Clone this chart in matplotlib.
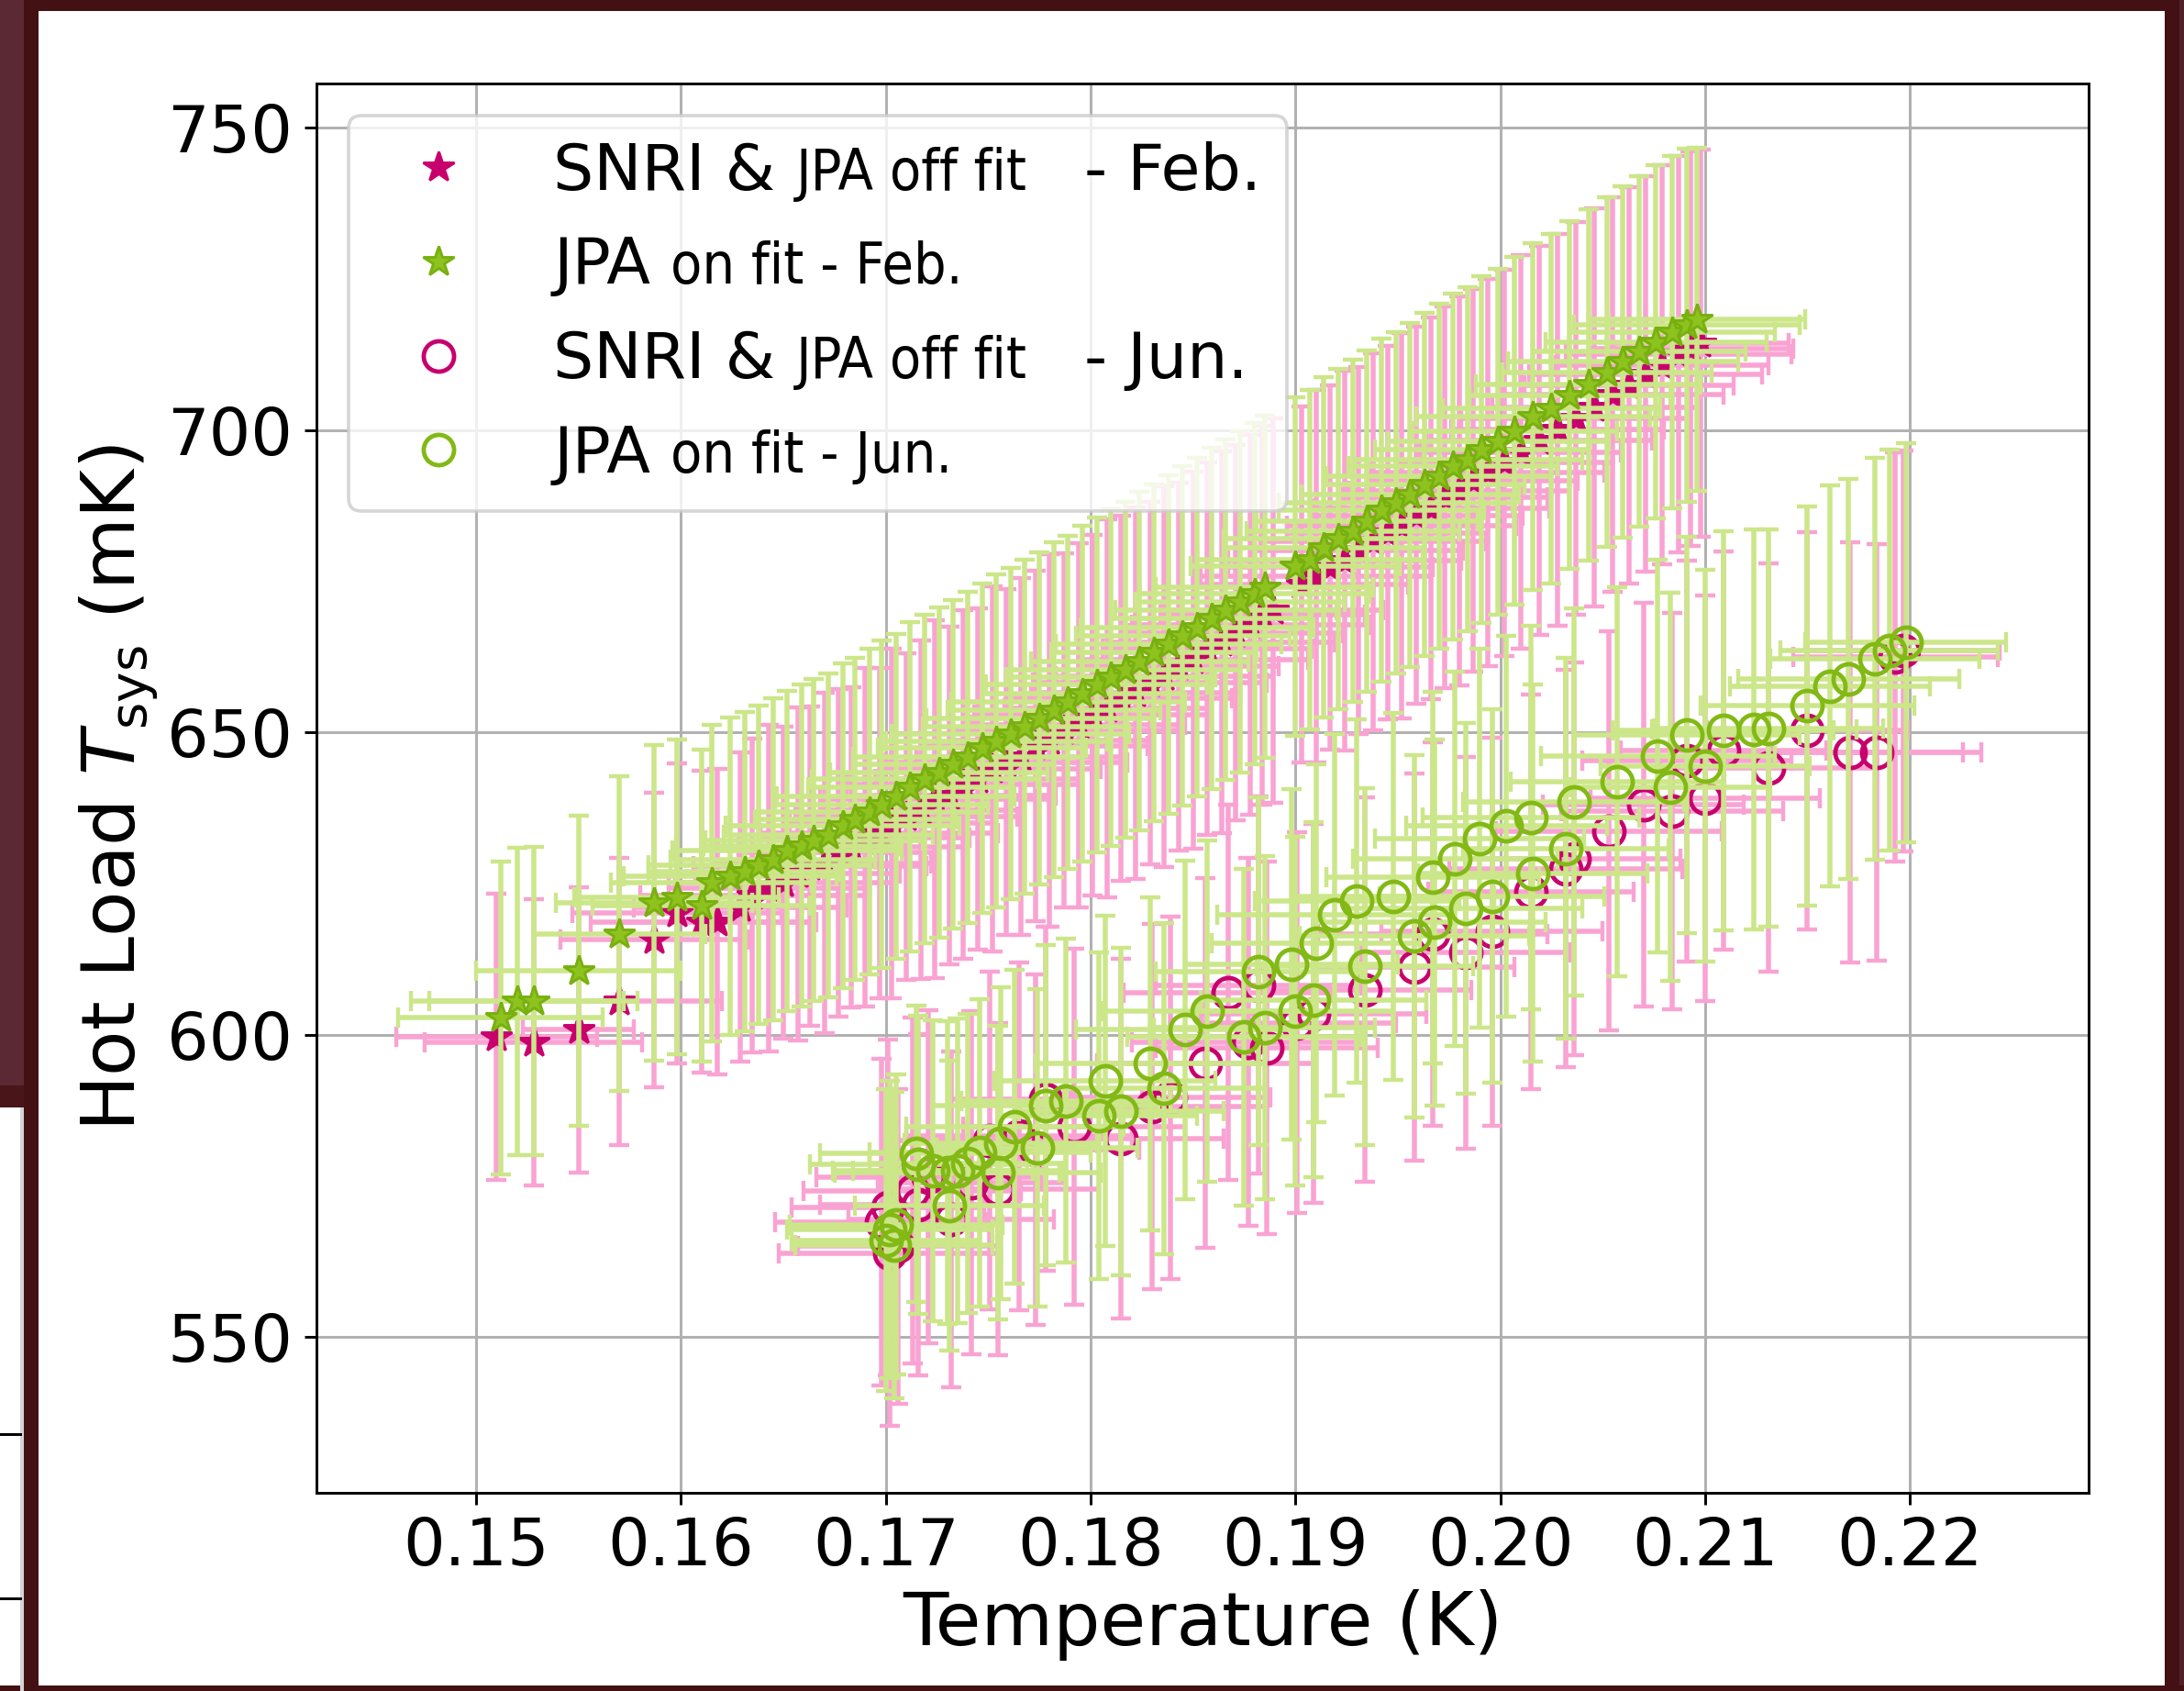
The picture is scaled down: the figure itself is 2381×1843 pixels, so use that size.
import matplotlib
matplotlib.use("Agg")
import matplotlib.pyplot as plt
from matplotlib.patches import Rectangle
from matplotlib.offsetbox import TextArea, HPacker, DrawingArea

# ---------------- data ----------------
# Feb. run, JPA on fit
feb_on_T = [0.1512, 0.1520, 0.1528, 0.1550, 0.1570, 0.1587, 0.1598, 0.1610, 0.1615, 0.1624,
            0.1631, 0.1638, 0.1645, 0.1652, 0.1659, 0.1665, 0.1672, 0.1679, 0.1685, 0.1692,
            0.1698, 0.1705, 0.1712, 0.1719, 0.1726, 0.1733, 0.1740, 0.1747, 0.1754, 0.1761,
            0.1768, 0.1775, 0.1782, 0.1789, 0.1796, 0.1803, 0.1810, 0.1817, 0.1824, 0.1831,
            0.1838, 0.1845, 0.1852, 0.1859, 0.1866, 0.1873, 0.1880, 0.1885,
            0.1900, 0.1907, 0.1914, 0.1921, 0.1928, 0.1935, 0.1942, 0.1949, 0.1956, 0.1963,
            0.1970, 0.1977, 0.1984, 0.1991, 0.1999, 0.2007, 0.2016, 0.2025, 0.2034, 0.2043,
            0.2052, 0.2060, 0.2068, 0.2076, 0.2084, 0.2091, 0.2096]
feb_on_Y = [602.8, 605.5, 605.5, 610.6, 616.7, 621.8, 622.8, 621.4, 625.1, 626.2,
            627.0, 628.1, 629.0, 630.4, 631.3, 632.2, 633.0, 634.6, 635.7, 636.9,
            638.1, 639.4, 641.0, 642.3, 643.4, 644.7, 645.9, 647.4, 648.6, 649.8,
            651.0, 652.3, 653.7, 655.0, 656.4, 657.9, 659.1, 660.4, 661.8, 663.2,
            664.6, 666.0, 667.4, 668.9, 670.3, 671.6, 673.0, 674.1,
            677.5, 678.6, 680.6, 682.0, 683.3, 685.0, 686.8, 688.0, 689.3, 691.0,
            692.4, 694.0, 695.2, 696.8, 698.1, 699.9, 702.2, 703.6, 705.8, 707.5,
            709.6, 711.3, 713.0, 714.6, 716.2, 717.4, 718.3]
feb_on_dT = [0.0050, 0.0052, 0.0051, 0.0050, 0.0042, 0.0048, 0.0050, 0.0053, 0.0049, 0.0052,
             0.0047, 0.0054, 0.0050, 0.0056, 0.0048, 0.0053, 0.0051, 0.0057, 0.0049, 0.0054,
             0.0052, 0.0058, 0.0050, 0.0055, 0.0053, 0.0049, 0.0056, 0.0051, 0.0054, 0.0058,
             0.0050, 0.0055, 0.0052, 0.0057, 0.0049, 0.0054, 0.0051, 0.0056, 0.0053, 0.0050,
             0.0055, 0.0052, 0.0057, 0.0049, 0.0054, 0.0051, 0.0056, 0.0053,
             0.0051, 0.0055, 0.0049, 0.0056, 0.0052, 0.0054, 0.0050, 0.0057, 0.0053, 0.0049,
             0.0055, 0.0051, 0.0056, 0.0052, 0.0054, 0.0050, 0.0057, 0.0053, 0.0049, 0.0055,
             0.0051, 0.0056, 0.0052, 0.0054, 0.0050, 0.0055, 0.0053]
feb_on_dY = [25.9, 25.4, 25.5, 25.7, 26.0, 26.1, 26.0, 25.8, 26.2, 26.3,
             26.4, 26.3, 26.6, 26.5, 26.7, 26.6, 26.8, 26.9, 26.7, 27.0,
             27.1, 26.9, 27.2, 27.1, 27.3, 27.2, 27.4, 27.3, 27.5, 27.4,
             27.6, 27.5, 27.7, 27.6, 27.8, 27.7, 27.9, 27.8, 28.0, 27.9,
             28.0, 28.1, 28.0, 28.2, 28.1, 28.3, 28.2, 28.3,
             28.0, 28.1, 28.2, 28.1, 28.3, 28.2, 28.4, 28.3, 28.5, 28.4,
             28.5, 28.6, 28.5, 28.7, 28.6, 28.8, 28.7, 28.9, 28.8, 29.0,
             28.9, 29.1, 29.0, 29.2, 29.1, 29.2, 28.4]

# Feb. run, SNRI & JPA off fit
feb_off_T = [0.1510, 0.1528, 0.1550, 0.1570, 0.1587, 0.1598, 0.1610, 0.1618, 0.1629,
             0.1635, 0.1643, 0.1650, 0.1657, 0.1663, 0.1670, 0.1677, 0.1683, 0.1690, 0.1697,
             0.1703, 0.1710, 0.1717, 0.1724, 0.1731, 0.1738, 0.1745, 0.1752, 0.1759, 0.1766,
             0.1773, 0.1780, 0.1787, 0.1794, 0.1801, 0.1808, 0.1815, 0.1822, 0.1829, 0.1836,
             0.1843, 0.1850, 0.1857, 0.1864, 0.1871, 0.1878, 0.1884, 0.1889,
             0.1903, 0.1910, 0.1917, 0.1924, 0.1931, 0.1938, 0.1945, 0.1952, 0.1959, 0.1966,
             0.1973, 0.1980, 0.1987, 0.1994, 0.2002, 0.2010, 0.2019, 0.2028, 0.2037, 0.2046,
             0.2055, 0.2063, 0.2071, 0.2079, 0.2087, 0.2093, 0.2098]
feb_off_Y = [599.7, 598.7, 600.8, 605.5, 615.7, 620.1, 618.7, 618.7, 621.1,
             623.0, 624.3, 625.1, 626.6, 627.9, 628.4, 630.1, 631.0, 632.6, 633.4,
             635.0, 636.1, 637.2, 638.9, 639.6, 641.4, 642.3, 644.0, 645.1, 646.0,
             647.8, 648.7, 650.3, 651.2, 652.9, 654.0, 655.6, 656.5, 658.2, 659.3,
             660.9, 662.0, 663.8, 664.9, 666.5, 667.8, 669.4, 670.2,
             674.5, 675.9, 677.3, 678.4, 680.1, 681.6, 683.0, 684.2, 685.9, 687.1,
             688.9, 690.0, 691.7, 693.0, 694.6, 696.4, 698.3, 700.1, 702.0, 703.8,
             705.9, 707.4, 709.3, 710.8, 712.6, 713.5, 714.4]
feb_off_dT = [0.0049, 0.0053, 0.0027, 0.0050, 0.0046, 0.0051, 0.0054, 0.0048, 0.0052,
              0.0055, 0.0049, 0.0053, 0.0050, 0.0057, 0.0052, 0.0048, 0.0055, 0.0051, 0.0058,
              0.0050, 0.0054, 0.0049, 0.0056, 0.0052, 0.0057, 0.0050, 0.0053, 0.0059, 0.0051,
              0.0055, 0.0049, 0.0056, 0.0052, 0.0058, 0.0050, 0.0054, 0.0051, 0.0057, 0.0053,
              0.0049, 0.0056, 0.0051, 0.0055, 0.0052, 0.0058, 0.0050, 0.0054,
              0.0052, 0.0056, 0.0050, 0.0057, 0.0051, 0.0055, 0.0049, 0.0056, 0.0052, 0.0058,
              0.0050, 0.0054, 0.0051, 0.0057, 0.0053, 0.0049, 0.0055, 0.0052, 0.0056, 0.0050,
              0.0054, 0.0051, 0.0057, 0.0052, 0.0055, 0.0050, 0.0043]
feb_off_dY = [23.7, 23.7, 23.6, 23.7, 24.4, 24.8, 25.0, 25.3, 25.6,
              26.0, 27.0, 25.8, 27.6, 26.4, 28.2, 27.1, 26.5, 28.0, 27.3,
              28.9, 27.0, 28.0, 29.6, 27.9, 28.8, 28.2, 30.2, 28.6, 29.5,
              29.0, 30.8, 29.3, 30.1, 29.8, 31.2, 30.2, 30.8, 30.0, 31.5,
              30.5, 31.2, 30.8, 31.6, 31.0, 31.4, 31.3, 31.8,
              29.5, 30.8, 30.1, 31.4, 30.4, 31.2, 30.9, 31.9, 31.2, 31.6,
              31.5, 32.2, 31.7, 32.0, 32.0, 32.6, 32.2, 32.4, 32.5, 32.9,
              32.6, 32.8, 32.7, 33.0, 32.8, 32.6, 32.0]

# Jun. run, JPA on fit
jun_on_T = [0.1700, 0.1702, 0.1704, 0.1705, 0.1715, 0.1716, 0.1723, 0.1730, 0.1731, 0.1735,
            0.1740, 0.1746, 0.1755, 0.1756, 0.1763, 0.1774, 0.1778, 0.1788, 0.1804, 0.1807,
            0.1815, 0.1829, 0.1836, 0.1846, 0.1857, 0.1875, 0.1882, 0.1885, 0.1898, 0.1900,
            0.1909, 0.1910, 0.1919, 0.1930, 0.1934, 0.1948, 0.1958, 0.1967, 0.1968, 0.1978,
            0.1983, 0.1990, 0.1996, 0.2003, 0.2015, 0.2016, 0.2032, 0.2036, 0.2057, 0.2077,
            0.2083, 0.2091, 0.2100, 0.2109, 0.2124, 0.2131, 0.2150, 0.2161, 0.2170, 0.2183,
            0.2190, 0.2198]
jun_on_Y = [566.0, 567.8, 565.2, 568.6, 580.3, 578.5, 577.5, 577.2, 571.7, 577.5,
            578.7, 580.5, 577.2, 582.0, 584.8, 581.3, 588.3, 589.1, 586.6, 592.4,
            587.3, 595.2, 591.1, 600.8, 603.9, 599.6, 610.5, 601.2, 611.6, 603.9,
            605.8, 615.1, 619.8, 622.1, 611.3, 622.9, 616.3, 626.0, 618.6, 629.1,
            620.9, 632.5, 622.9, 634.5, 635.9, 626.7, 630.8, 638.5, 641.8, 646.1,
            641.0, 649.6, 644.5, 650.3, 650.5, 650.7, 654.4, 657.7, 658.8, 662.2,
            663.6, 664.9]
jun_on_dT = [0.0046, 0.0050, 0.0048, 0.0052, 0.0047, 0.0053, 0.0049, 0.0055, 0.0046, 0.0051,
             0.0048, 0.0054, 0.0050, 0.0047, 0.0053, 0.0049, 0.0055, 0.0051, 0.0048, 0.0054,
             0.0050, 0.0056, 0.0049, 0.0053, 0.0051, 0.0057, 0.0050, 0.0054, 0.0052, 0.0048,
             0.0055, 0.0051, 0.0057, 0.0050, 0.0053, 0.0049, 0.0056, 0.0052, 0.0054, 0.0050,
             0.0057, 0.0051, 0.0055, 0.0049, 0.0053, 0.0056, 0.0050, 0.0054, 0.0052, 0.0057,
             0.0049, 0.0055, 0.0051, 0.0054, 0.0050, 0.0056, 0.0052, 0.0049, 0.0054, 0.0051,
             0.0053, 0.0049]
jun_on_dY = [25.0, 24.6, 25.3, 24.8, 24.5, 24.7, 24.9, 25.1, 24.0, 25.2,
             24.7, 25.4, 24.3, 25.8, 26.0, 26.3, 26.5, 26.8, 27.0, 27.3,
             27.1, 27.6, 27.4, 28.0, 28.3, 27.9, 28.7, 28.4, 29.0, 28.8,
             29.3, 29.6, 29.9, 30.1, 29.5, 30.4, 30.0, 30.8, 30.3, 31.0,
             30.6, 31.3, 30.9, 31.5, 31.7, 31.2, 31.5, 32.0, 32.2, 32.5,
             32.1, 32.8, 32.4, 33.0, 33.1, 32.9, 33.0, 33.2, 33.1, 33.3,
             33.2, 33.0]

# Jun. run, SNRI & JPA off fit
jun_off_T = [0.1698, 0.1701, 0.1702, 0.1706, 0.1713, 0.1716, 0.1721, 0.1732, 0.1742, 0.1751,
             0.1755, 0.1765, 0.1773, 0.1778, 0.1792, 0.1815, 0.1830, 0.1839, 0.1856, 0.1867,
             0.1877, 0.1882, 0.1886, 0.1901, 0.1909, 0.1934, 0.1958, 0.1967, 0.1983, 0.1996,
             0.2015, 0.2032, 0.2036, 0.2053, 0.2070, 0.2084, 0.2091, 0.2100, 0.2109, 0.2131,
             0.2150, 0.2171, 0.2184, 0.2193, 0.2197]
jun_off_Y = [569.0, 571.4, 563.8, 565.0, 574.2, 571.9, 576.5, 569.4, 575.5, 582.5,
             574.5, 583.2, 581.0, 589.4, 584.8, 582.8, 588.1, 589.6, 595.3, 607.0,
             598.8, 608.2, 597.8, 602.0, 603.5, 607.4, 611.2, 616.7, 613.6, 617.1,
             623.6, 627.5, 629.1, 633.7, 638.0, 637.0, 645.3, 639.1, 647.0, 644.2,
             650.3, 646.7, 646.7, 662.5, 663.5]
jun_off_dT = [0.0052, 0.0047, 0.0054, 0.0049, 0.0053, 0.0048, 0.0055, 0.0050, 0.0046, 0.0053,
              0.0049, 0.0055, 0.0051, 0.0047, 0.0054, 0.0050, 0.0056, 0.0049, 0.0053, 0.0051,
              0.0057, 0.0050, 0.0054, 0.0048, 0.0055, 0.0052, 0.0049, 0.0056, 0.0051, 0.0054,
              0.0050, 0.0057, 0.0052, 0.0055, 0.0049, 0.0054, 0.0051, 0.0056, 0.0050, 0.0053,
              0.0049, 0.0055, 0.0051, 0.0050, 0.0047]
jun_off_dY = [27.0, 27.8, 28.5, 26.0, 28.6, 28.2, 27.5, 27.8, 28.4, 27.9,
              27.5, 28.8, 29.0, 28.5, 29.4, 29.8, 30.2, 30.0, 30.6, 31.0,
              30.4, 31.2, 30.8, 31.5, 31.3, 31.8, 32.0, 31.7, 32.4, 32.1,
              32.6, 32.9, 32.5, 33.0, 33.4, 32.8, 33.2, 33.6, 33.0, 33.8,
              32.9, 34.7, 34.5, 33.9, 33.2]

# legend text, split where the original changes font
legend_parts = [["SNRI &", "JPA off fit", "- Feb."],
                ["JPA", "on fit - Feb."],
                ["SNRI &", "JPA off fit", "- Jun."],
                ["JPA", "on fit - Jun."]]

# ---------------- style ----------------
MAG = "#C8006E"        # SNRI & JPA off markers
PINK = "#F9A3D3"       # SNRI & JPA off error bars
GREEN = "#82B914"      # JPA on markers
LIME = "#CCE68A"       # JPA on error bars
DARK = "#431113"       # screenshot frame
MAROON = "#5a2934"

plt.rcParams["font.family"] = "DejaVu Sans"

W, H = 2381, 1843
DPI = 264.5
fig = plt.figure(figsize=(W / DPI, H / DPI), dpi=DPI, facecolor="white")
ax = fig.add_axes([345 / W, 1 - 1626.7 / H, (2277 - 345) / W, (1626.7 - 91) / H])

ebk = dict(fmt="none", elinewidth=1.5, capsize=3, capthick=1.2)

# Feb.
ax.errorbar(feb_off_T, feb_off_Y, xerr=feb_off_dT, yerr=feb_off_dY, ecolor=PINK, zorder=2.0, **ebk)
h1, = ax.plot(feb_off_T, feb_off_Y, ls="none", marker="*", ms=9.5, color=MAG, mew=0.8, zorder=2.05)
ax.errorbar(feb_on_T, feb_on_Y, xerr=feb_on_dT, yerr=feb_on_dY, ecolor=LIME, zorder=2.1, **ebk)
h2, = ax.plot(feb_on_T, feb_on_Y, ls="none", marker="*", ms=9.5, mfc="#8DC21F", mec="#78B00F",
              mew=0.8, zorder=3.2)
# Jun.
ax.errorbar(jun_off_T, jun_off_Y, xerr=jun_off_dT, yerr=jun_off_dY, ecolor=PINK, zorder=2.0, **ebk)
h3, = ax.plot(jun_off_T, jun_off_Y, ls="none", marker="o", ms=9, mfc="none", mec=MAG,
              mew=1.3, zorder=2.05)
ax.errorbar(jun_on_T, jun_on_Y, xerr=jun_on_dT, yerr=jun_on_dY, ecolor=LIME, zorder=2.1, **ebk)
h4, = ax.plot(jun_on_T, jun_on_Y, ls="none", marker="o", ms=9, mfc="none", mec=GREEN,
              mew=1.3, zorder=3.1)

ax.set_xlim(0.142208, 0.228728)
ax.set_ylim(524.26, 757.36)
ax.set_xticks([0.15, 0.16, 0.17, 0.18, 0.19, 0.20, 0.21, 0.22])
ax.set_yticks([550, 600, 650, 700, 750])
ax.tick_params(labelsize=19.5)
ax.grid(True, color="#b0b0b0", linewidth=0.8)
ax.set_xlabel("Temperature (K)", fontsize=22, labelpad=3)
ax.set_ylabel(r"Hot Load $T_{\rm sys}$ (mK)", fontsize=22, labelpad=2)

leg = ax.legend([h1, h2, h3, h4], [" ".join(p) for p in legend_parts], loc="upper left",
                fontsize=19, labelspacing=0.51)

# rebuild each label as normal + condensed pieces
big = dict(fontsize=19, family="DejaVu Sans")
small = dict(fontsize=17, family="DejaVu Sans", stretch="condensed")
rows = [row for col in leg._legend_handle_box.get_children() for row in col.get_children()]
for row, parts in zip(rows, legend_parts):
    if len(parts) == 3:
        kids = [TextArea(parts[0], textprops=big), DrawingArea(6, 1),
                TextArea(parts[1], textprops=small), DrawingArea(17, 1),
                TextArea(parts[2], textprops=big)]
    else:
        kids = [TextArea(parts[0], textprops=big), DrawingArea(6, 1),
                TextArea(parts[1], textprops=small)]
    box = HPacker(children=kids, align="baseline", pad=0, sep=0)
    box.set_figure(fig)
    row.get_children()[1] = box

# ---------------- screenshot frame around the figure ----------------
def frame(x, y, w, h, color):
    fig.add_artist(Rectangle((x / W, 1 - (y + h) / H), w / W, h / H, transform=fig.transFigure,
                             facecolor=color, edgecolor="none", zorder=20))

frame(0, 0, W, 12, DARK)
frame(2360, 0, 21, H, DARK)
frame(2376, 0, 5, H, "#4e2027")
frame(0, 1837, W, 6, DARK)
frame(0, 0, 26, 1183, MAROON)
frame(0, 1183, 26, 24, "#4a1518")
frame(22, 1207, 4, 636, "#d4d4d4")
frame(0, 1562, 24, 3, "black")
frame(0, 1741, 24, 3, "black")
frame(26, 0, 16, H, DARK)

fig.savefig("out.png", dpi=DPI, facecolor="white")
